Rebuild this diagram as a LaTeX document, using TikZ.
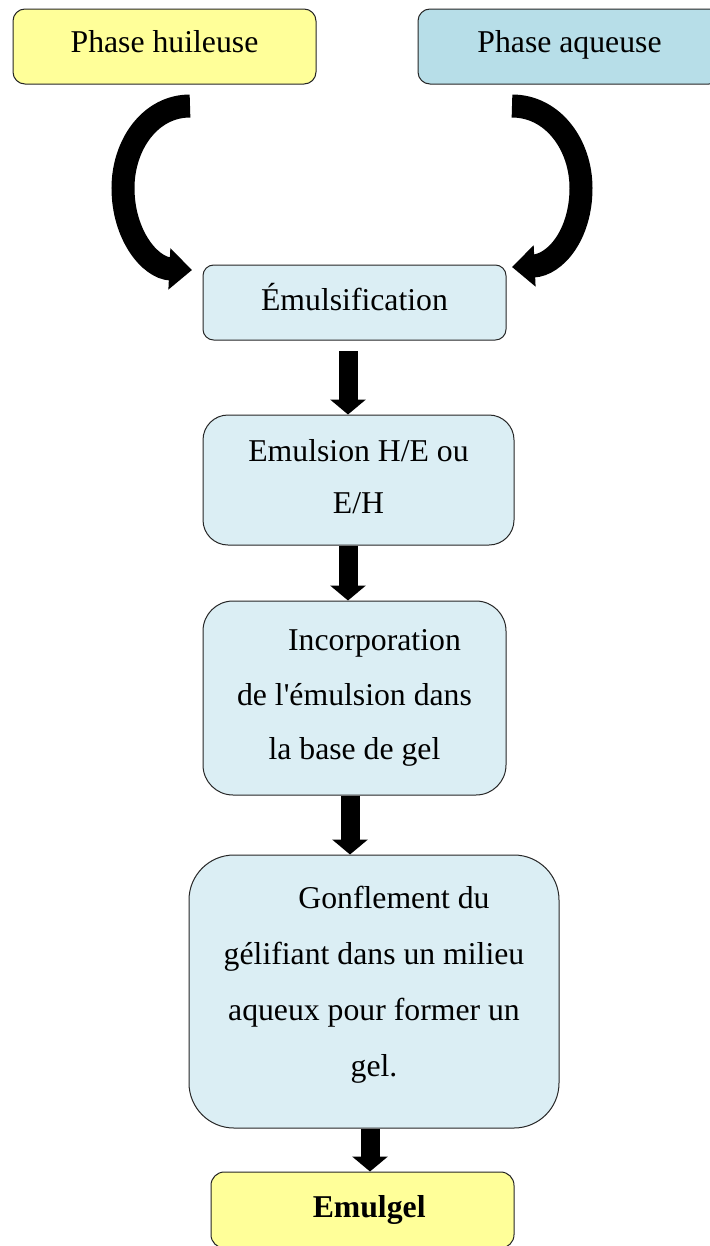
\documentclass[tikz,border=0pt]{standalone}
\usepackage{fontspec}
\setmainfont{Liberation Serif}
\newfontfamily\apfont{Liberation Serif}
\usetikzlibrary{arrows.meta}
\definecolor{pyellow}{RGB}{255,255,153}
\definecolor{pblue}{RGB}{183,222,232}
\definecolor{lblue}{RGB}{219,238,244}
\begin{document}
\begin{tikzpicture}[x=0.75pt,y=-0.75pt,
  box/.style={draw=black!85, line width=0.75pt, align=center, inner sep=0pt,
    font=\fontsize{23.8}{39}\selectfont},
  straight/.style={line width=14.25pt, -{Triangle[width=26.25pt,length=11.25pt]}},
  curved/.style={line width=17.25pt, -{Triangle[width=30pt,length=17pt]}}]
\clip (0,0) rectangle (710,1246);
\fill[white] (0,0) rectangle (710,1246);
% boxes
\node[box, fill=pyellow, minimum width=227.25pt, minimum height=56.25pt, rounded corners=9pt,
  text depth=7.5pt]
  (huile) at (164.5,46.5) {Phase huileuse};
\node[box, fill=pblue, minimum width=227.25pt, minimum height=56.25pt, rounded corners=9pt,
  text depth=8.25pt]
  (aqueuse) at (569.5,46.5) {Phase aqueuse};
\node[box, fill=lblue, minimum width=227.25pt, minimum height=56.25pt, rounded corners=8pt,
  text depth=9pt]
  (emulsif) at (354.5,302.5) {Émulsification};
\node[box, fill=lblue, minimum width=233.25pt, minimum height=97.5pt, rounded corners=18.75pt,
  text depth=6pt]
  (emulsion) at (358.5,480) {Emulsion H/E ou\\E/H};
\node[box, fill=lblue, minimum width=227.25pt, minimum height=145.5pt, rounded corners=22.5pt,
  font=\fontsize{23.8}{41}\selectfont]
  (incorp) at (354.5,698) {\hspace*{30pt}Incorporation\\de l{\apfont'}émulsion dans\\la base de gel};
\node[box, fill=lblue, minimum width=277.5pt, minimum height=204.75pt, rounded corners=33.75pt,
  font=\fontsize{23.8}{42}\selectfont, text depth=15.75pt]
  (gonfl) at (374,991.5) {\hspace*{30pt}Gonflement du\\gélifiant dans un milieu\\aqueux pour former un\\gel.};
\node[box, fill=pyellow, minimum width=227.25pt, minimum height=57pt, rounded corners=10pt]
  (emulgel) at (362.5,1210) {\hspace*{10pt}\textbf{Emulgel}};
% curved arrows
\coordinate (c1s) at (190,106);
\coordinate (c1e) at (192,270);
\coordinate (c2s) at (512,106);
\coordinate (c2e) at (512,267);
\draw[curved] (c1s) .. controls (150,106) and (123,145) .. (123,188)
  .. controls (123,235) and (150,268) .. (c1e);
\draw[curved] (c2s) .. controls (553,106) and (581,145) .. (581,188)
  .. controls (581,235) and (555,265) .. (c2e);
% straight arrows
\coordinate (a1) at (348,351);
\coordinate (x2) at (348,0);
\coordinate (x3) at (350,0);
\coordinate (x4) at (370,0);
\draw[straight] (a1) -- (a1 |- emulsion.north);
\draw[straight] (x2 |- emulsion.south) -- (x2 |- incorp.north);
\draw[straight] (x3 |- incorp.south) -- (x3 |- gonfl.north);
\draw[straight] (x4 |- gonfl.south) -- (x4 |- emulgel.north);
\end{tikzpicture}
\end{document}
